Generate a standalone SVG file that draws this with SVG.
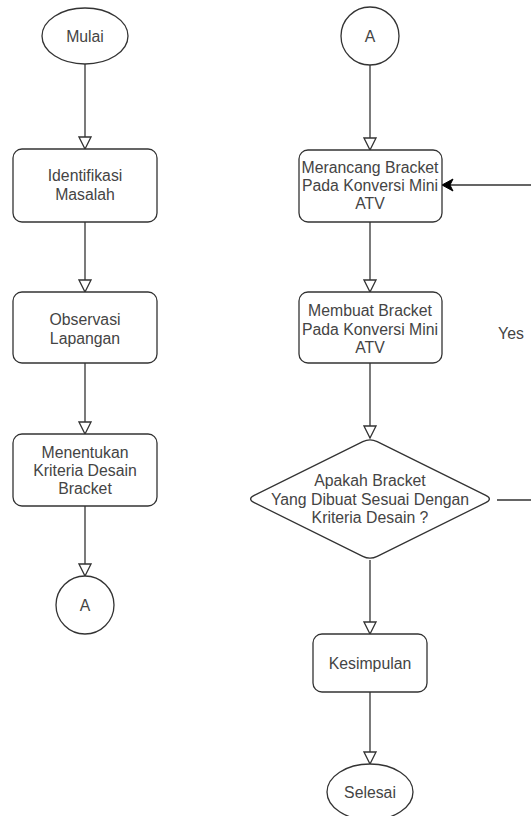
<svg xmlns="http://www.w3.org/2000/svg" width="531" height="816" viewBox="0 0 531 816">
<style>
.s{fill:#fff;stroke:#333;stroke-width:1.3}
.t{font-family:"Liberation Sans",Arial,sans-serif;font-size:15.8px;fill:#444;text-anchor:middle}
.c{fill:none;stroke:#333;stroke-width:1.3}
</style>
<defs>
<marker id="open" markerUnits="userSpaceOnUse" markerWidth="14" markerHeight="14" viewBox="-1 -1 14 14" refX="12" refY="6" orient="auto">
<path d="M0,0 L12,6 L0,12 Z" fill="#fff" stroke="#333" stroke-width="1.3"/>
</marker>
<marker id="classic" markerUnits="userSpaceOnUse" markerWidth="14" markerHeight="14" viewBox="-1 -1 14 14" refX="11" refY="6" orient="auto">
<path d="M0,0 L11,6 L0,12 L3,6 Z" fill="#000" stroke="#000" stroke-width="1"/>
</marker>
</defs>
<rect width="531" height="816" fill="#fff"/>
<g id="connectors">
<line class="c" x1="85" y1="64" x2="85" y2="149" marker-end="url(#open)"/>
<line class="c" x1="85" y1="222" x2="85" y2="292" marker-end="url(#open)"/>
<line class="c" x1="85" y1="363" x2="85" y2="434" marker-end="url(#open)"/>
<line class="c" x1="85" y1="506" x2="85" y2="576" marker-end="url(#open)"/>
<line class="c" x1="370" y1="65" x2="370" y2="150" marker-end="url(#open)"/>
<line class="c" x1="370" y1="222" x2="370" y2="292" marker-end="url(#open)"/>
<line class="c" x1="370" y1="363" x2="370" y2="438" marker-end="url(#open)"/>
<line class="c" x1="370" y1="560" x2="370" y2="634" marker-end="url(#open)"/>
<line class="c" x1="370" y1="692" x2="370" y2="764" marker-end="url(#open)"/>
<path class="c" d="M497,500 L545,500 L545,185 L442,185" marker-end="url(#classic)"/>
<text class="t" x="511" y="338.5">Yes</text>
</g>
<g id="mulai">
<ellipse class="s" cx="85" cy="36" rx="43" ry="28"/>
<text class="t" x="85" y="41.5">Mulai</text>
</g>
<g id="identifikasi">
<rect class="s" x="13" y="149" width="144" height="73" rx="9"/>
<text class="t" x="85" y="181">Identifikasi</text>
<text class="t" x="85" y="200">Masalah</text>
</g>
<g id="observasi">
<rect class="s" x="13" y="292" width="144" height="71" rx="9"/>
<text class="t" x="85" y="325">Observasi</text>
<text class="t" x="85" y="344">Lapangan</text>
</g>
<g id="menentukan">
<rect class="s" x="13" y="434" width="144" height="72" rx="9"/>
<text class="t" x="85" y="457.5">Menentukan</text>
<text class="t" x="85" y="475.5">Kriteria Desain</text>
<text class="t" x="85" y="493.5">Bracket</text>
</g>
<g id="a-left">
<circle class="s" cx="85" cy="605" r="29"/>
<text class="t" x="85" y="610.5">A</text>
</g>
<g id="a-right">
<circle class="s" cx="370" cy="36" r="29"/>
<text class="t" x="370" y="41.5">A</text>
</g>
<g id="merancang">
<rect class="s" x="299" y="150" width="143" height="72" rx="9"/>
<text class="t" x="370" y="173">Merancang Bracket</text>
<text class="t" x="370" y="191">Pada Konversi Mini</text>
<text class="t" x="370" y="209">ATV</text>
</g>
<g id="membuat">
<rect class="s" x="299" y="292" width="143" height="71" rx="9"/>
<text class="t" x="370" y="315.5">Membuat Bracket</text>
<text class="t" x="370" y="334.5">Pada Konversi Mini</text>
<text class="t" x="370" y="353">ATV</text>
</g>
<g id="keputusan">
<path class="s" d="M362.8,441.6 Q370,438 377.2,441.6 L485.8,495.4 Q493,499 485.8,502.6 L377.2,556.4 Q370,560 362.8,556.4 L254.2,502.6 Q247,499 254.2,495.4 Z"/>
<text class="t" x="370" y="485.5">Apakah Bracket</text>
<text class="t" x="370" y="504.5">Yang Dibuat Sesuai Dengan</text>
<text class="t" x="370" y="523">Kriteria Desain ?</text>
</g>
<g id="kesimpulan">
<rect class="s" x="313" y="634" width="114" height="58" rx="9"/>
<text class="t" x="370" y="668.5">Kesimpulan</text>
</g>
<g id="selesai">
<ellipse class="s" cx="370" cy="792" rx="43" ry="28"/>
<text class="t" x="370" y="797.5">Selesai</text>
</g>
</svg>
